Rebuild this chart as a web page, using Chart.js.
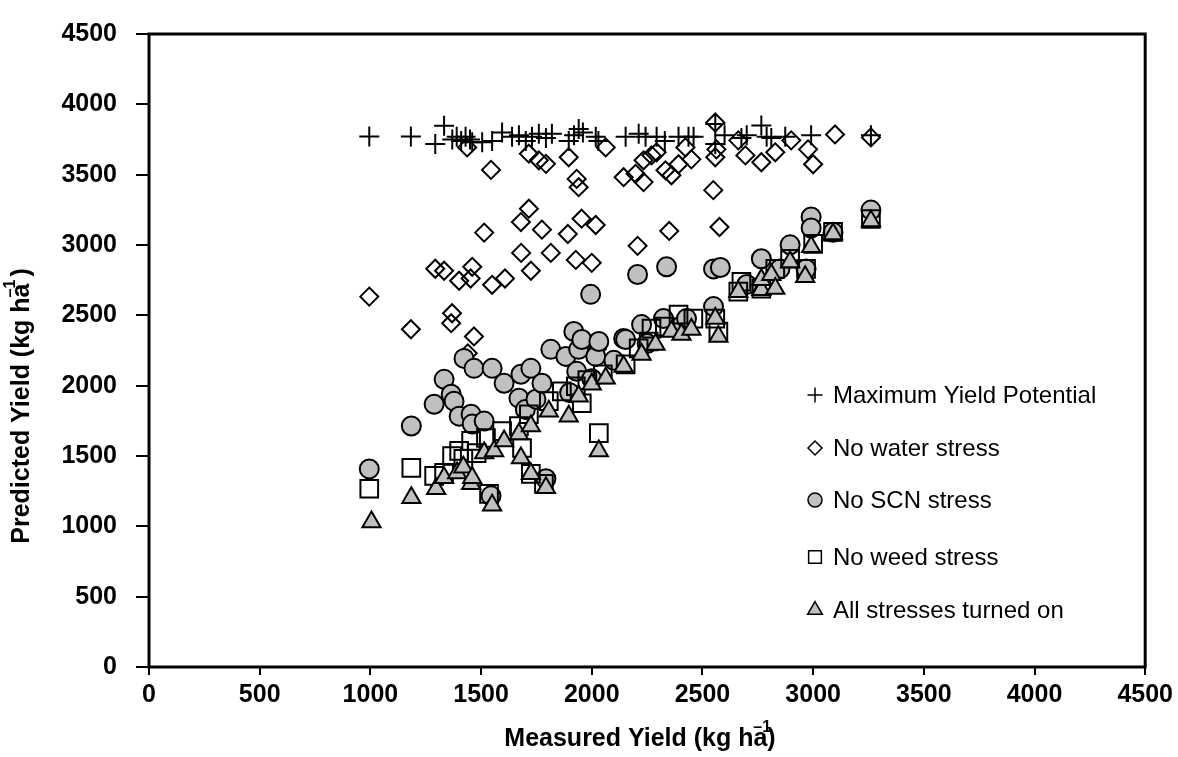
<!DOCTYPE html>
<html>
<head>
<meta charset="utf-8">
<script src="https://cdn.jsdelivr.net/npm/chart.js@4.4.0/dist/chart.umd.min.js"></script>
<style>
  html, body { margin: 0; padding: 0; background: #fff; }
</style>
</head>
<body>
<canvas id="yieldChart" width="1178" height="757"></canvas>
<script>
// measured yield vs predicted yield, kg/ha
const axisTicks = [0, 500, 1000, 1500, 2000, 2500, 3000, 3500, 4000, 4500];

const maxYieldPotential = [
  [995,3772],[1183,3772],[1293,3718],[1333,3848],[1370,3750],[1390,3770],[1410,3740],[1430,3770],
  [1450,3750],[1460,3730],[1505,3730],[1550,3740],[1595,3800],[1640,3770],[1671,3780],[1702,3740],
  [1730,3770],[1761,3790],[1793,3760],[1820,3790],[1896,3740],[1920,3780],[1941,3824],[1960,3800],
  [2018,3770],[2030,3740],[2153,3770],[2212,3790],[2243,3770],[2293,3770],[2330,3740],[2392,3770],
  [2437,3770],[2460,3770],[2558,3860],[2558,3718],[2600,3780],[2676,3760],[2700,3780],[2766,3850],
  [2790,3770],[2811,3760],[2874,3770],[2991,3780],[3261,3780]
];

const noWaterStress = [
  [995,2633],[1183,2401],[1293,2831],[1333,2817],[1365,2444],[1369,2515],[1401,2746],[1437,3694],
  [1440,2230],[1453,2762],[1460,2845],[1468,2350],[1514,3088],[1545,3534],[1550,2717],[1608,2762],
  [1680,3163],[1681,2944],[1716,3258],[1716,3649],[1725,2817],[1761,3602],[1775,3109],[1793,3577],
  [1815,2944],[1892,3078],[1896,3624],[1928,2894],[1932,3470],[1941,3411],[1954,3187],[2000,2873],
  [2018,3142],[2023,2260],[2063,3694],[2144,3482],[2198,3506],[2207,2994],[2234,3447],[2234,3602],
  [2270,3637],[2293,3659],[2333,3531],[2350,3100],[2360,3496],[2392,3574],[2423,3694],[2450,3609],
  [2549,3390],[2558,3871],[2558,3624],[2563,3680],[2577,3128],[2662,3744],[2694,3637],[2766,3588],
  [2829,3659],[2901,3744],[2977,3680],[3000,3574],[3099,3786],[3261,3765]
];

const noScnStress = [
  [995,1408],[1185,1713],[1288,1868],[1333,2045],[1365,1939],[1378,1890],[1401,1783],[1423,2194],
  [1455,1797],[1460,1727],[1468,2123],[1514,1748],[1545,1217],[1550,2123],[1604,2017],[1671,1911],
  [1680,2081],[1700,1830],[1725,2123],[1748,1904],[1775,2017],[1793,1338],[1815,2258],[1883,2208],
  [1900,1950],[1919,2385],[1932,2102],[1941,2258],[1955,2328],[1995,2649],[2000,2050],[2018,2208],
  [2032,2314],[2100,2180],[2144,2335],[2153,2328],[2207,2790],[2225,2434],[2250,2300],[2324,2477],
  [2338,2845],[2400,2420],[2428,2477],[2550,2562],[2550,2830],[2581,2840],[2700,2720],[2766,2902],
  [2850,2830],[2896,3001],[2968,2830],[2991,3199],[2991,3121],[3090,3090],[3261,3248]
];

const noWeedStress = [
  [995,1267],[1185,1415],[1288,1359],[1333,1380],[1369,1500],[1401,1536],[1420,1480],[1455,1607],
  [1480,1520],[1522,1628],[1536,1231],[1595,1677],[1671,1713],[1685,1557],[1716,1797],[1725,1373],
  [1784,1302],[1806,1890],[1865,1960],[1928,1996],[1955,1875],[1980,2040],[2032,1663],[2050,2080],
  [2153,2151],[2212,2265],[2257,2314],[2270,2406],[2330,2420],[2392,2505],[2459,2477],[2558,2477],
  [2572,2385],[2662,2668],[2676,2739],[2766,2690],[2829,2830],[2896,2902],[2968,2830],[3000,3008],
  [3090,3093],[3261,3185]
];

const allStresses = [
  [1005,1030],[1185,1203],[1297,1267],[1333,1345],[1392,1380],[1420,1420],[1455,1302],[1460,1345],
  [1514,1522],[1550,1150],[1559,1536],[1604,1607],[1671,1656],[1680,1486],[1725,1373],[1725,1713],
  [1793,1274],[1806,1819],[1896,1783],[1941,1925],[2000,2010],[2032,1536],[2063,2052],[2144,2137],
  [2225,2222],[2288,2293],[2360,2385],[2405,2364],[2450,2399],[2558,2477],[2572,2350],[2662,2668],
  [2766,2682],[2766,2753],[2811,2788],[2829,2690],[2896,2880],[2964,2774],[2991,2987],[3090,3079],
  [3261,3170]
];

const seriesNames = ['Maximum Yield Potential', 'No water stress', 'No SCN stress', 'No weed stress', 'All stresses turned on'];

const GRAY = '#c0c0c0';
const FONT = "'Liberation Sans', Arial, sans-serif";

const styles = [
  { pointStyle: 'cross',    radius: 10, fill: 'rgba(0,0,0,0)', legendRadius: 7.5 },
  { pointStyle: 'rectRot',  radius: 9,  fill: 'rgba(0,0,0,0)', legendRadius: 7 },
  { pointStyle: 'circle',   radius: 9.5, fill: GRAY,           legendRadius: 7 },
  { pointStyle: 'rect',     radius: 12.5, fill: 'rgba(0,0,0,0)', legendRadius: 9 },
  { pointStyle: 'triangle', radius: 10.5, fill: GRAY,          legendRadius: 8.5 }
];
const seriesData = [maxYieldPotential, noWaterStress, noScnStress, noWeedStress, allStresses];

const datasets = seriesData.map((d, i) => ({
  label: seriesNames[i],
  data: d,
  order: 5 - i,
  pointStyle: styles[i].pointStyle,
  pointRadius: styles[i].radius,
  pointHoverRadius: styles[i].radius,
  pointBackgroundColor: styles[i].fill,
  pointBorderColor: '#000',
  pointBorderWidth: 2,
  showLine: false
}));

// frame, axis titles and the in-plot legend
const decorations = {
  id: 'decorations',
  afterDraw(chart) {
    const { ctx, chartArea: a } = chart;
    ctx.save();
    ctx.strokeStyle = '#000';
    ctx.lineWidth = 3;
    ctx.strokeRect(a.left, a.top, a.right - a.left, a.bottom - a.top);

    ctx.fillStyle = '#000';
    ctx.font = 'bold 25px ' + FONT;
    ctx.textBaseline = 'alphabetic';

    // x title
    const xMain = 'Measured Yield (kg ha';
    const w1 = ctx.measureText(xMain).width;
    const w2 = ctx.measureText(')').width;
    let x0 = 640 - (w1 + w2) / 2;
    ctx.textAlign = 'left';
    ctx.fillText(xMain, x0, 746);
    ctx.fillText(')', x0 + w1, 746);
    ctx.font = 'bold 16px ' + FONT;
    ctx.fillText('\u20131', x0 + w1 - 14, 732);

    // y title
    ctx.save();
    ctx.translate(29, 406);
    ctx.rotate(-Math.PI / 2);
    ctx.font = 'bold 25px ' + FONT;
    const yMain = 'Predicted Yield (kg ha';
    const yw1 = ctx.measureText(yMain).width;
    const yw2 = ctx.measureText(' )').width;
    const y0 = -(yw1 + yw2) / 2;
    ctx.fillText(yMain, y0, 0);
    ctx.fillText(' )', y0 + yw1, 0);
    ctx.font = 'bold 16px ' + FONT;
    ctx.fillText('\u20131', y0 + yw1 - 14, -14);
    ctx.restore();

    // legend
    const legendX = 815, textX = 833;
    const rows = [395, 448, 500, 557, 610];
    ctx.font = '24px ' + FONT;
    ctx.textBaseline = 'middle';
    rows.forEach((ry, i) => {
      const st = styles[i];
      ctx.fillStyle = st.fill;
      ctx.strokeStyle = '#000';
      ctx.lineWidth = 1.5;
      Chart.helpers.drawPoint(ctx, { pointStyle: st.pointStyle, radius: st.legendRadius, rotation: 0, borderWidth: 1.5 }, legendX, ry);
      ctx.fillStyle = '#000';
      ctx.fillText(seriesNames[i], textX, ry + 1);
    });
    ctx.restore();
  }
};

const tickFont = { family: FONT, size: 25, weight: 'bold' };

new Chart(document.getElementById('yieldChart'), {
  type: 'scatter',
  data: { datasets },
  options: {
    responsive: false,
    animation: false,
    layout: { padding: { top: 31, right: 30, left: 0, bottom: 0 } },
    plugins: { legend: { display: false }, tooltip: { enabled: false } },
    scales: {
      x: {
        type: 'linear',
        min: 0, max: 4500,
        afterBuildTicks: s => { s.ticks = axisTicks.map(v => ({ value: v })); },
        afterFit: s => { s.height = 90; },
        border: { display: false },
        grid: { drawOnChartArea: false, drawTicks: true, tickLength: 8, color: '#000', lineWidth: 2 },
        ticks: { color: '#000', font: tickFont, padding: 5, maxRotation: 0, autoSkip: false, callback: v => String(v) }
      },
      y: {
        type: 'linear',
        min: 0, max: 4500,
        afterBuildTicks: s => { s.ticks = axisTicks.map(v => ({ value: v })); },
        afterFit: s => { s.width = 149; },
        border: { display: false },
        grid: { drawOnChartArea: false, drawTicks: true, tickLength: 13, color: '#000', lineWidth: 2 },
        ticks: { color: '#000', font: tickFont, padding: 19, autoSkip: false, callback: v => String(v) }
      }
    }
  },
  plugins: [decorations]
});
</script>
</body>
</html>
